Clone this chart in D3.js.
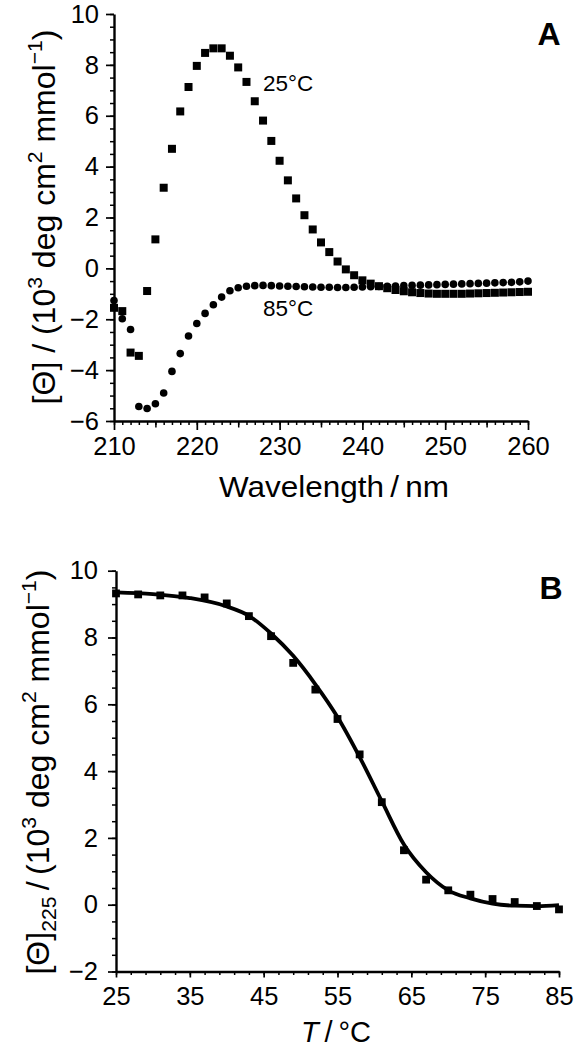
<!DOCTYPE html>
<html><head><meta charset="utf-8">
<script src="https://cdn.jsdelivr.net/npm/d3@7/dist/d3.min.js"></script>
<style>
body{margin:0;background:#fff}
svg{display:block}
text{font-family:"Liberation Sans",Arial,Helvetica,sans-serif;fill:#000}
</style>
</head><body>
<svg id="chart" width="576" height="1050"></svg>
<script>
// ---------- Panel A data ----------
const wavelengthNm = [210,211,212,213,214,215,216,217,218,219,220,221,222,223,224,225,226,227,228,229,230,
  231,232,233,234,235,236,237,238,239,240,241,242,243,244,245,246,247,248,249,250,
  251,252,253,254,255,256,257,258,259,260];
const theta25C = [-1.55,-1.68,-3.31,-3.44,-0.89,1.14,3.17,4.70,6.17,7.13,7.96,8.47,8.65,8.65,8.36,7.90,7.33,6.57,5.81,5.01,4.23,
  3.46,2.75,2.09,1.53,1.02,0.64,0.27,-0.04,-0.27,-0.47,-0.60,-0.70,-0.78,-0.85,-0.90,-0.94,-0.97,-0.99,-1.00,-1.00,
  -1.00,-1.00,-0.99,-0.98,-0.97,-0.96,-0.95,-0.94,-0.93,-0.92];
const theta85C = [-1.26,-1.98,-2.40,-5.43,-5.51,-5.32,-4.90,-4.05,-3.35,-2.66,-2.17,-1.77,-1.43,-1.13,-0.88,-0.76,-0.70,-0.68,-0.67,-0.68,-0.69,
  -0.70,-0.71,-0.72,-0.73,-0.74,-0.74,-0.75,-0.75,-0.74,-0.73,-0.72,-0.71,-0.70,-0.69,-0.68,-0.67,-0.66,-0.65,-0.64,-0.63,
  -0.62,-0.61,-0.60,-0.59,-0.58,-0.57,-0.56,-0.55,-0.53,-0.50];
const wavelengthTicks = [210,220,230,240,250,260];
const thetaTicksA = [-6,-4,-2,0,2,4,6,8,10];
const seriesLabelsA = ["25°C","85°C"];

// ---------- Panel B data ----------
const temperatureC = [25,28,31,34,37,40,43,46,49,52,55,58,61,64,67,70,73,76,79,82,85];
const theta225 = [9.32,9.29,9.26,9.26,9.20,9.02,8.64,8.04,7.24,6.44,5.56,4.50,3.07,1.63,0.75,0.43,0.30,0.17,0.08,-0.04,-0.14];
const fitTemperatureC = [25,30,35,40,43,46,49,52,55,58,61,64,67,70,73,76,79,82,85];
const fitTheta225 = [9.35,9.30,9.18,8.93,8.65,8.12,7.45,6.60,5.62,4.42,3.10,1.80,0.97,0.43,0.19,0.03,-0.03,-0.04,-0.01];
const temperatureTicks = [25,35,45,55,65,75,85];
const thetaTicksB = [-2,0,2,4,6,8,10];

const svg = d3.select("#chart");
const FS_TICK = 25.5;

function styleAxis(g, domainW){
  g.select(".domain").attr("stroke","#000").attr("stroke-width",domainW);
  g.selectAll(".tick line").attr("stroke","#000").attr("stroke-width",1.7);
  g.selectAll(".tick text").attr("font-size",FS_TICK).attr("fill","#000")
    .attr("font-family",'"Liberation Sans",Arial,sans-serif');
}
function minorAxis(axisFn, scale, values, size, tx, ty){
  const g = svg.append("g").attr("transform",`translate(${tx},${ty})`)
    .call(axisFn(scale).tickValues(values).tickSize(size).tickFormat("").tickSizeOuter(0));
  g.select(".domain").remove();
  g.selectAll(".tick line").attr("stroke","#000").attr("stroke-width",1.5);
  return g;
}

// ================= Panel A =================
const xA = d3.scaleLinear().domain([210,260]).range([114,528]);
const yA = d3.scaleLinear().domain([-6,10]).range([421,14]);

minorAxis(d3.axisLeft, yA, d3.range(-6,10.001,0.5), 4, 114, 0);
minorAxis(d3.axisBottom, xA, d3.range(210,260.001,1), 4, 0, 421);
minorAxis(d3.axisBottom, xA, d3.range(215,260,10), 6.5, 0, 421);

const gyA = svg.append("g").attr("transform","translate(114,0)")
  .call(d3.axisLeft(yA).tickValues(thetaTicksA).tickSize(8).tickPadding(7).tickSizeOuter(0)
    .tickFormat(d=> d<0 ? "\u2212"+Math.abs(d) : d));
styleAxis(gyA, 2.4);
const gxA = svg.append("g").attr("transform","translate(0,421)")
  .call(d3.axisBottom(xA).tickValues(wavelengthTicks).tickSize(9).tickPadding(7).tickSizeOuter(0));
styleAxis(gxA, 2.4);

// markers
svg.append("g").selectAll("circle").data(wavelengthNm).join("circle")
  .attr("cx",(d)=>xA(d)).attr("cy",(d,i)=>yA(theta85C[i])).attr("r",3.8).attr("fill","#000");
const sqA = 8;
svg.append("g").selectAll("rect").data(wavelengthNm).join("rect")
  .attr("x",d=>xA(d)-sqA/2).attr("y",(d,i)=>yA(theta25C[i])-sqA/2).attr("width",sqA).attr("height",sqA).attr("fill","#000");

svg.append("text").attr("x",263).attr("y",91).attr("font-size",22.5).text(seriesLabelsA[0]);
svg.append("text").attr("x",263).attr("y",316).attr("font-size",22.5).text(seriesLabelsA[1]);
svg.append("text").attr("x",549).attr("y",45).attr("text-anchor","middle").attr("font-size",32).attr("font-weight","bold").text("A");

svg.append("text").attr("x",219).attr("y",497).attr("font-size",29).attr("textLength",230).attr("lengthAdjust","spacingAndGlyphs").text("Wavelength\u2009/\u2009nm");

function yTitle(x, cy, fs, withSub){
  const t = svg.append("text").attr("transform",`translate(${x},${cy}) rotate(-90)`)
    .attr("text-anchor","middle").attr("font-size",fs);
  const s = fs*0.66, up = fs*0.42, down = fs*0.22;
  t.append("tspan").text("[\u0398]");
  if(withSub){
    t.append("tspan").attr("font-size",s).attr("dy",down).text("225");
    t.append("tspan").attr("dy",-down).text("\u2009/\u2009(10");
  } else {
    t.append("tspan").text(" / (10");
  }
  t.append("tspan").attr("font-size",s).attr("dy",-up).text("3");
  t.append("tspan").attr("dy",up).text(" deg cm");
  t.append("tspan").attr("font-size",s).attr("dy",-up).text("2");
  t.append("tspan").attr("dy",up).text(" mmol");
  t.append("tspan").attr("font-size",s).attr("dy",-up).text("\u22121");
  t.append("tspan").attr("dy",up).text(")");
}
yTitle(55, 217, 32, false);

// ================= Panel B =================
const xB = d3.scaleLinear().domain([25,85]).range([116,559]);
const yB = d3.scaleLinear().domain([-2,10]).range([971.5,570.7]);

minorAxis(d3.axisLeft, yB, d3.range(-2,10.001,0.5), 4, 116, 0);
minorAxis(d3.axisBottom, xB, d3.range(25,85.001,2), 3.5, 0, 971.5);

const gyB = svg.append("g").attr("transform","translate(116,0)")
  .call(d3.axisLeft(yB).tickValues(thetaTicksB).tickSize(8).tickPadding(10).tickSizeOuter(0)
    .tickFormat(d=> d<0 ? "\u2212"+Math.abs(d) : d));
styleAxis(gyB, 2.4);
const gxB = svg.append("g").attr("transform","translate(0,971.5)")
  .call(d3.axisBottom(xB).tickValues(temperatureTicks).tickSize(6).tickPadding(9).tickSizeOuter(0));
styleAxis(gxB, 2.4);

const fitLine = d3.line().x((d,i)=>xB(d)).y((d,i)=>yB(fitTheta225[i])).curve(d3.curveMonotoneX);
svg.append("path").datum(fitTemperatureC).attr("d",fitLine).attr("fill","none").attr("stroke","#000").attr("stroke-width",3.8);

const sqB = 7.8;
svg.append("g").selectAll("rect").data(temperatureC).join("rect")
  .attr("x",d=>xB(d)-sqB/2).attr("y",(d,i)=>yB(theta225[i])-sqB/2).attr("width",sqB).attr("height",sqB).attr("fill","#000");

svg.append("text").attr("x",551).attr("y",599).attr("text-anchor","middle").attr("font-size",32).attr("font-weight","bold").text("B");

const xtB = svg.append("text").attr("x",301).attr("y",1042).attr("font-size",29);
xtB.append("tspan").attr("font-style","italic").text("T");
xtB.append("tspan").text("\u2009/\u2009°C");

yTitle(49, 772, 32, true);
</script>
</body></html>
